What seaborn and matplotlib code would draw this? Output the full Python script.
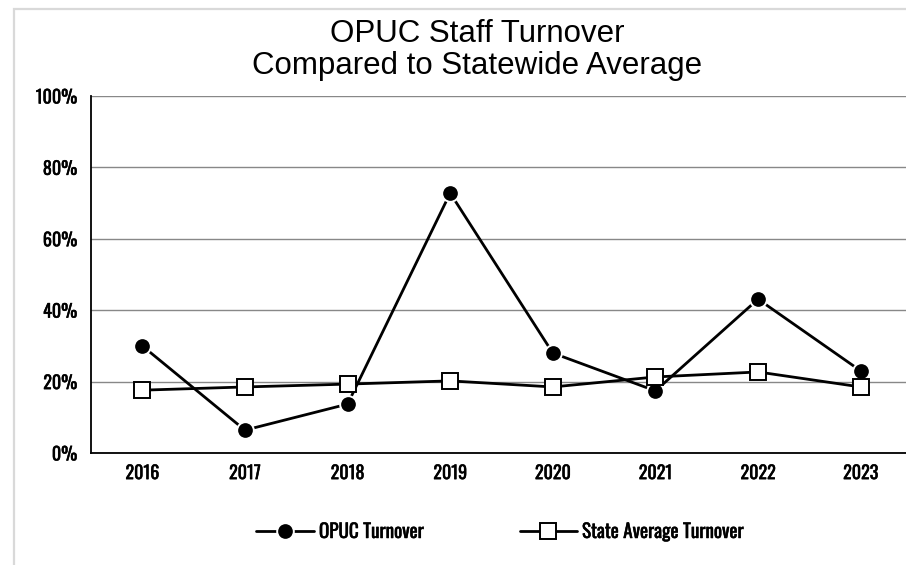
import seaborn as sns
import matplotlib.pyplot as plt
import matplotlib.patches as patches
import matplotlib.patheffects as pe
import matplotlib.ticker as mticker
import pandas as pd

# chart data
years = ['2016', '2017', '2018', '2019', '2020', '2021', '2022', '2023']
opuc_turnover = [30.0, 6.4, 13.7, 72.8, 28.0, 17.4, 43.1, 23.0]
state_turnover = [17.6, 18.5, 19.3, 20.2, 18.5, 21.3, 22.7, 18.5]
series_names = ['OPUC Turnover', 'State Average Turnover']

df = pd.DataFrame({
    'year': years * 2,
    'value': opuc_turnover + state_turnover,
    'series': [series_names[0]] * len(years) + [series_names[1]] * len(years),
})

sns.set_style('white')
plt.rcParams['font.family'] = ['Oswald', 'Pathway Gothic One', 'Open Sans Condensed', 'DejaVu Sans']
plt.rcParams['text.color'] = 'black'
plt.rcParams['xtick.color'] = 'black'
plt.rcParams['ytick.color'] = 'black'

fig = plt.figure(figsize=(9.06, 5.65), dpi=100)
ax = fig.add_axes([91 / 906, 1 - 453 / 565, (912 - 91) / 906, (453 - 96) / 565])

# light frame of the chart area
fig.add_artist(patches.Rectangle((14 / 906, -0.1), 2, 1.1 - 9 / 565, transform=fig.transFigure,
                                 fill=False, edgecolor='#d9d9d9', linewidth=1.6))

sns.lineplot(data=df, x='year', y='value', hue='series', style='series',
             palette=['black', 'black'], markers=['o', 's'], dashes=False,
             linewidth=2, markersize=12, markeredgewidth=1.4, ax=ax)
# square markers hollow white
for line in ax.get_lines():
    if line.get_marker() == 's':
        line.set_markerfacecolor('white')
        line.set_markeredgecolor('black')

ax.set_xlim(-0.5, len(years) - 0.5)
ax.set_ylim(0, 100)
ax.yaxis.set_major_locator(mticker.MultipleLocator(20))
ax.yaxis.set_major_formatter(mticker.FuncFormatter(lambda v, p: f'{v:.0f}%'))
ax.set_xticks(range(len(years)))
ax.set_xticklabels(years)
ax.set_xticks([i - 0.5 for i in range(len(years) + 1)], minor=True)
ax.tick_params(axis='x', which='major', length=0, pad=8, labelsize=13)
ax.tick_params(axis='x', which='minor', length=6, width=1, color='#555555', direction='inout')
ax.tick_params(axis='y', which='major', length=5, width=1, color='#333333', pad=5, labelsize=13)
ax.set_xlabel('')
ax.set_ylabel('')

ax.grid(axis='y', color='#888888', linewidth=1)
ax.set_axisbelow(True)
for side in ['top', 'right']:
    ax.spines[side].set_visible(False)
for side in ['left', 'bottom']:
    ax.spines[side].set_color('black')
    ax.spines[side].set_linewidth(1.3)

fig.text(477 / 906, 1 - 50 / 565, 'OPUC Staff Turnover\nCompared to Statewide Average',
         ha='center', va='center', fontsize=22.5, family='Liberation Sans', linespacing=1.05)

handles, labels = ax.get_legend_handles_labels()
leg = ax.legend(handles, labels, loc='center', bbox_to_anchor=(500 / 906, 1 - 532 / 565),
                bbox_transform=fig.transFigure, ncol=2, frameon=False, handlelength=3.0,
                handletextpad=0.26, columnspacing=5.0, prop={'size': 13.8})

# slightly heavier strokes for the condensed labels
thick = [pe.withStroke(linewidth=0.35, foreground='black')]
for t in ax.get_xticklabels() + ax.get_yticklabels() + leg.get_texts():
    t.set_path_effects(thick)

fig.savefig('out.png', dpi=100)
